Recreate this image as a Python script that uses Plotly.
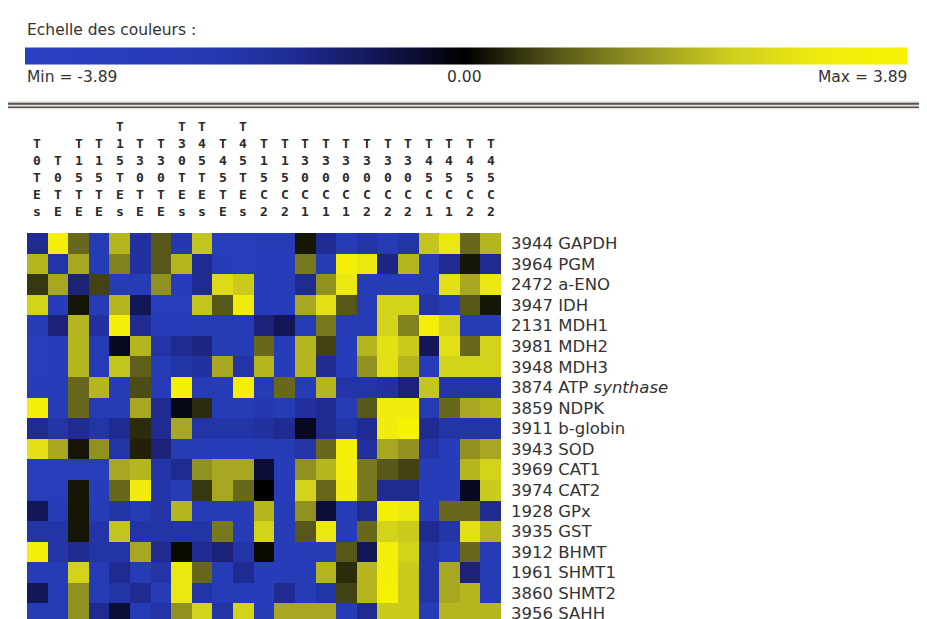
import plotly.graph_objects as go

# etiquettes des colonnes (conditions) et des lignes (proteines)
col_labels = ['T0TEs', 'T0TE', 'T15TE', 'T15TE', 'T15TEs', 'T30TE', 'T30TE', 'T30TEs',
              'T45TEs', 'T45TE', 'T45TEs', 'T15C2', 'T15C2', 'T30C1', 'T30C1', 'T30C1',
              'T30C2', 'T30C2', 'T30C2', 'T45C1', 'T45C1', 'T45C2', 'T45C2']

row_labels = ['3944 GAPDH', '3964 PGM', '2472 a-ENO', '3947 IDH', '2131 MDH1', '3981 MDH2',
              '3948 MDH3', '3874 ATP <i>synthase</i>', '3859 NDPK', '3911 b-globin', '3943 SOD',
              '3969 CAT1', '3974 CAT2', '1928 GPx', '3935 GST', '3912 BHMT', '1961 SHMT1',
              '3860 SHMT2', '3956 SAHH']

# valeurs (echelle -3.89 .. 3.89)
z_vals = [
    [-1.5, 3.5, 1, -2.5, 2, -1.8, 0.8, -2.2, 2.2, -3, -3, -2.5, -2.5, 0.2, -1.5, -2.5, -2, -2.5, -2, 2.2, 3, 1, 2],
    [2, -2, 1.8, -2.5, 1.3, -1.8, 0.8, 2, -1.5, -2.5, -3, -2.8, -2.8, 1.2, -2.5, 3.5, 3, -1.3, 2, -2.5, -1.5, 0.2, -1.5],
    [0.5, 1.8, -1.2, 0.6, -2.5, -2.5, 1.5, -2.8, -1.5, 2.7, 2.3, -2.8, -2.8, -1.5, 1.5, 3, -2.5, -2.5, -2.5, -2.5, 2.8, 1.8, 3],
    [2.5, -2.8, 0.2, -2.6, 2, -0.8, -3, -3, 2.2, 0.8, 3.2, -2.8, -2.8, 1.8, 2.8, 0.8, -2.5, 2.5, 2.5, -2, -2.5, 0.8, 0.2],
    [-2.5, -1.2, 2, -1.8, 3.5, -1.5, -2.8, -2.8, -2.5, -2.5, -2.6, -1.2, -0.8, -2.5, 1.2, -2.5, -2.5, 2.5, 1.3, 3.5, 2.5, -2.5, -2.5],
    [-3, -2.8, 2, -2.5, -0.3, 2, -2, -1.5, -1.3, -2.5, -2.5, 1, -2.8, 2, 0.6, -2.8, 2, 2.8, 2.3, -0.8, 2.8, 1, 2.5],
    [-3, -2.8, 2, -2.7, 2.2, 0.9, -2.5, -2, -1.8, 1.8, -2, 2, -2.8, 2, -1.5, -2.8, 1.5, 2.8, 2, -2.8, 2.5, 2.5, 2.5],
    [-2.8, -2.8, 1, 2, -2.5, 0.7, -2.5, 3.5, -2.5, -2.5, 3.5, -2.5, 1, -2.5, 2, -2, -2, -1.8, -1.2, 2.2, -2, -2, -2],
    [3.5, -2.5, 1, -2.5, -2.5, 1.8, -1.5, -0.2, 0.4, -2.5, -2.5, -2.2, -2.5, -1.8, -1.5, -2.5, 0.8, 3.2, 3.2, -2.5, 1, 1.8, 2],
    [-1.5, -2, -1.5, -2, -1.5, 0.4, -1.5, 1.8, -2, -2, -2, -1.8, -1.5, -0.3, -1.5, -2, -1.5, 3.2, 3.8, -1.5, -2, -2, -2],
    [2.8, 1.8, 0.2, 1.5, -2, 0.3, -1.2, -2.5, -2.5, -2.8, -2.8, -2.5, -2.5, -2, 1, 3.5, -1.8, 1.8, 1.5, -2, -2.8, 1.5, 1.8],
    [-3, -3, -3, -3, 1.8, 2, -2, -1.5, 1.5, 1.8, 1.8, -0.5, -2.8, 1.5, 2, 3.5, 1.2, 0.8, 0.6, -2.8, -2.8, 2, 2.5],
    [-3, -3, 0.2, -2.8, 1, 3.2, -2, -2.5, 0.5, 1.8, 1, 0, -2.8, 2.5, 1, 3.2, 1.2, -1.5, -1.5, -2.8, -2.8, -0.3, 2.3],
    [-0.8, -2.5, 0.2, -2.5, -2, -2.5, -2, 2, -2.5, -2.5, -2.5, 2, -2.5, 1.5, -0.5, -2.5, -1.5, 3.5, 3, -2.5, 1, 1, -1.5],
    [-2, -2, 0.2, -2, 2.2, -2, -2, -2, -2, 1.2, -2.5, 2.5, -2.5, 0.8, 3, -2.5, 1, 2.5, 2.3, -1.5, -2, 2.8, 2],
    [3.5, -2, -1.5, -2, -2, 1.8, -1.5, 0.1, -1.5, -1.2, -2, 0.1, -2.8, -2.5, -2.5, 0.8, -0.8, 3.5, 2.5, -2, -2.5, 1, -2.5],
    [-2.5, -2.5, 2.5, -2.5, -1.5, -2.5, -2, 3, 1, -2.5, -1.5, -2.8, -2.8, -2.5, 2, 0.4, 2, 3.5, 2.3, -2, 1.8, -1.2, -2.5],
    [-0.8, -2.5, 1.5, -2.5, -2, -1.5, -2.5, 3, -2, -2.5, -2.5, -2.8, -1.5, -2.5, -2, 0.6, 2, 3.8, 2.3, -2, 1.8, 2, -2.5],
    [-2.5, -2.5, 1.5, -1.5, -0.5, -2.5, -2, 1.5, 2.5, -2, 2.5, -2.5, 1.8, 1.8, 1.8, -2.5, -1.5, 2.3, 2.3, -2.5, 2, 2, 2],
]

z_min, z_max = -3.89, 3.89

# la page html garde la marge de 8px du body : on decale tout
OFF = 8
W, H = 927, 619
L, T = 27 - OFF, 233 - OFF
pw = 474
ph = 20.6 * len(row_labels)
R = W - L - pw
B = H - T - ph


def px(x):
    return (x - OFF - L) / pw


def py(y):
    return (H - B - (y - OFF)) / ph


cscale = [
    [0.0, 'rgb(42,64,195)'],
    [0.2, 'rgb(38,58,180)'],
    [0.3, 'rgb(32,45,150)'],
    [0.4, 'rgb(20,22,85)'],
    [0.5, 'rgb(0,0,0)'],
    [0.6, 'rgb(85,85,25)'],
    [0.7, 'rgb(150,150,35)'],
    [0.8, 'rgb(205,205,30)'],
    [0.9, 'rgb(240,235,15)'],
    [1.0, 'rgb(248,242,0)'],
]

fig = go.Figure()

fig.add_trace(go.Heatmap(
    z=z_vals,
    x=list(range(len(col_labels))),
    y=row_labels,
    zmin=z_min, zmax=z_max,
    colorscale=cscale,
    hoverinfo='skip',
    colorbar=dict(orientation='h', lenmode='pixels', len=882, thicknessmode='pixels', thickness=17,
                  x=px(25), xanchor='left', y=py(55.5), yanchor='middle',
                  xpad=0, ypad=0, outlinewidth=0, showticklabels=False, ticks=''),
))

txt = dict(family='DejaVu Sans', size=15.5, color='#333333')
ann = [
    dict(text='Echelle des couleurs :', x=px(25), y=py(30), xanchor='left', yanchor='middle', font=txt),
    dict(text='Min = -3.89', x=px(25), y=py(77), xanchor='left', yanchor='middle', font=txt),
    dict(text='0.00', x=px(464), y=py(77), xanchor='center', yanchor='middle', font=txt),
    dict(text='Max = 3.89', x=px(909), y=py(77), xanchor='right', yanchor='middle', font=txt),
]
for a in ann:
    a.update(xref='paper', yref='paper', showarrow=False)

# etiquettes verticales des colonnes
for i, lab in enumerate(col_labels):
    ann.append(dict(text='<b>' + '<br>'.join(lab) + '</b>', x=i, xref='x', y=1, yref='paper',
                    yshift=12, yanchor='bottom', xanchor='center', showarrow=False,
                    font=dict(family='DejaVu Sans Mono', size=13, color='#2a2a2a')))

shapes = [
    dict(type='rect', x0=px(5), x1=px(935), y0=py(101), y1=py(109), xref='paper', yref='paper',
         fillcolor='#f4dccb', line=dict(width=0), layer='below'),
    dict(type='line', x0=px(5), x1=px(935), y0=py(103.5), y1=py(103.5), xref='paper', yref='paper',
         line=dict(color='#46566a', width=2)),
    dict(type='line', x0=px(5), x1=px(935), y0=py(107), y1=py(107), xref='paper', yref='paper',
         line=dict(color='#46566a', width=1.5)),
]

fig.update_layout(
    width=W, height=H,
    margin=dict(l=L, r=R, t=T, b=B, autoexpand=False),
    paper_bgcolor='white', plot_bgcolor='white',
    annotations=ann, shapes=shapes,
    xaxis=dict(range=[-0.5, len(col_labels) - 0.5], showticklabels=False, showgrid=False,
               zeroline=False, ticks=''),
    yaxis=dict(autorange='reversed', side='right', showgrid=False, zeroline=False, ticks='',
               ticklabelstandoff=9, tickfont=dict(family='DejaVu Sans', size=16.5, color='#333333')),
)

fig.write_html('out.html')
